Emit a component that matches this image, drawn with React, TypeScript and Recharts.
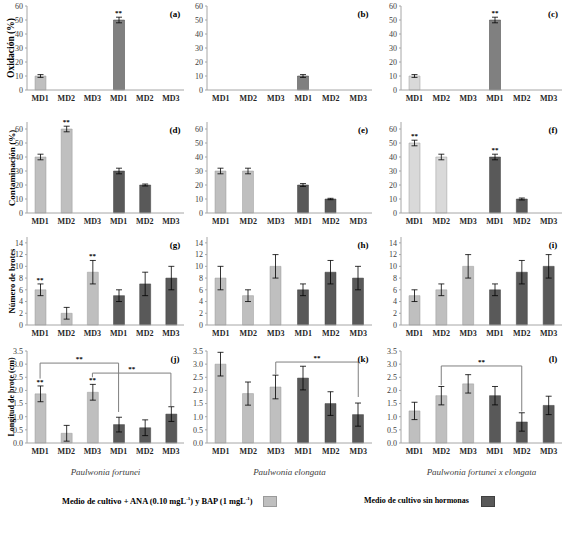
import React from "react";
import { ComposedChart, Bar, Cell, ErrorBar, Line, XAxis, YAxis, ReferenceLine } from "recharts";

// categorias: 3 con hormonas + 3 sin hormonas
const categories = ["MD1", "MD2", "MD3", "MD1", "MD2", "MD3"];

// Oxidación (%)
const oxFortunei = [10, 0, 0, 50, 0, 0];
const oxFortuneiErr = [1, null, null, 2, null, null];
const oxFortuneiSig = [0, 0, 0, 1, 0, 0];
const oxElongata = [0, 0, 0, 10, 0, 0];
const oxElongataErr = [null, null, null, 1, null, null];
const oxElongataSig = [0, 0, 0, 0, 0, 0];
const oxHibrido = [10, 0, 0, 50, 0, 0];
const oxHibridoErr = [1, null, null, 2, null, null];
const oxHibridoSig = [0, 0, 0, 1, 0, 0];

// Contaminación (%)
const contFortunei = [40, 60, 0, 30, 20, 0];
const contFortuneiErr = [2, 2, null, 2, 0.7, null];
const contFortuneiSig = [0, 1, 0, 0, 0, 0];
const contElongata = [30, 30, 0, 20, 10, 0];
const contElongataErr = [2, 2, null, 1, 0.5, null];
const contElongataSig = [0, 0, 0, 0, 0, 0];
const contHibrido = [50, 40, 0, 40, 10, 0];
const contHibridoErr = [2, 2, null, 2, 0.7, null];
const contHibridoSig = [1, 0, 0, 1, 0, 0];

// Número de brotes
const brotesFortunei = [6, 2, 9, 5, 7, 8];
const brotesFortuneiErr = [1, 1, 2, 1, 2, 2];
const brotesFortuneiSig = [1, 0, 1, 0, 0, 0];
const brotesElongata = [8, 5, 10, 6, 9, 8];
const brotesElongataErr = [2, 1, 2, 1, 2, 2];
const brotesElongataSig = [0, 0, 0, 0, 0, 0];
const brotesHibrido = [5, 6, 10, 6, 9, 10];
const brotesHibridoErr = [1, 1, 2, 1, 2, 2];
const brotesHibridoSig = [0, 0, 0, 0, 0, 0];

// Longitud de brote (cm)
const longFortunei = [1.87, 0.37, 1.93, 0.7, 0.58, 1.1];
const longFortuneiErr = [0.3, 0.3, 0.3, 0.28, 0.3, 0.28];
const longFortuneiSig = [1, 0, 1, 0, 0, 0];
const longElongata = [3.0, 1.88, 2.13, 2.47, 1.5, 1.08];
const longElongataErr = [0.45, 0.44, 0.45, 0.45, 0.45, 0.44];
const longElongataSig = [0, 0, 0, 0, 0, 0];
const longHibrido = [1.22, 1.8, 2.25, 1.8, 0.8, 1.43];
const longHibridoErr = [0.33, 0.35, 0.35, 0.35, 0.35, 0.35];
const longHibridoSig = [0, 0, 0, 0, 0, 0];

// comparaciones significativas (indices de categoria, altura del corchete y de sus patas)
const bracketsFortunei = [
  { from: 0, to: 3, y: 3.04, yFrom: 2.45, yTo: 1.18 },
  { from: 2, to: 5, y: 2.66, yFrom: 2.5, yTo: 1.4 },
];
const bracketsElongata = [{ from: 2, to: 5, y: 3.08, yFrom: 2.6, yTo: 1.75 }];
const bracketsHibrido = [{ from: 1, to: 4, y: 2.93, yFrom: 2.2, yTo: 1.2 }];

const species = ["Paulwonia fortunei", "Paulwonia elongata", "Paulwonia fortunei x elongata"];
const yTitles = ["Oxidación (%)", "Contaminación (%)", "Número de brotes", "Longitud de brote (cm)"];
const panelLetters = ["(a)", "(b)", "(c)", "(d)", "(e)", "(f)", "(g)", "(h)", "(i)", "(j)", "(k)", "(l)"];

const FONT = "'Liberation Serif', 'Times New Roman', serif";
const LIGHT = "#bfbfbf";
const LIGHTER = "#d9d9d9";
const MID = "#808080";
const DARK = "#595959";
const AXIS = "#a6a6a6";
const TOP_PAD = 12;

const cols = [
  { x0: 27, x1: 184 },
  { x0: 207, x1: 372 },
  { x0: 401, x1: 562 },
];

const rows = [
  { top: 6, bottom: 90, max: 60, ticks: [0, 10, 20, 30, 40, 50, 60], dec: 0, titleSize: 9.5 },
  { top: 122, bottom: 213, max: 65, ticks: [0, 10, 20, 30, 40, 50, 60], dec: 0, titleSize: 9 },
  { top: 237, bottom: 325, max: 15, ticks: [0, 2, 4, 6, 8, 10, 12, 14], dec: 0, titleSize: 8.5 },
  { top: 351, bottom: 443, max: 3.5, ticks: [0, 0.5, 1, 1.5, 2, 2.5, 3, 3.5], dec: 1, titleSize: 8 },
];

const panels = [
  { vals: oxFortunei, errs: oxFortuneiErr, sig: oxFortuneiSig, light: LIGHT, dark: MID },
  { vals: oxElongata, errs: oxElongataErr, sig: oxElongataSig, light: LIGHT, dark: MID },
  { vals: oxHibrido, errs: oxHibridoErr, sig: oxHibridoSig, light: LIGHTER, dark: MID },
  { vals: contFortunei, errs: contFortuneiErr, sig: contFortuneiSig, light: LIGHT, dark: DARK },
  { vals: contElongata, errs: contElongataErr, sig: contElongataSig, light: LIGHT, dark: DARK },
  { vals: contHibrido, errs: contHibridoErr, sig: contHibridoSig, light: LIGHTER, dark: DARK },
  { vals: brotesFortunei, errs: brotesFortuneiErr, sig: brotesFortuneiSig, light: LIGHT, dark: DARK },
  { vals: brotesElongata, errs: brotesElongataErr, sig: brotesElongataSig, light: LIGHT, dark: DARK },
  { vals: brotesHibrido, errs: brotesHibridoErr, sig: brotesHibridoSig, light: LIGHT, dark: DARK },
  { vals: longFortunei, errs: longFortuneiErr, sig: longFortuneiSig, light: LIGHT, dark: DARK, brackets: bracketsFortunei },
  { vals: longElongata, errs: longElongataErr, sig: longElongataSig, light: LIGHT, dark: DARK, brackets: bracketsElongata },
  { vals: longHibrido, errs: longHibridoErr, sig: longHibridoSig, light: LIGHT, dark: DARK, brackets: bracketsHibrido },
];

const key = (i: number) => `c${i}`;

const renderStar = (props: any) => {
  const { cx, cy, index } = props;
  if (cy == null || Number.isNaN(cy)) return <g key={`s${index}`} />;
  return (
    <text key={`s${index}`} x={cx} y={cy - 2} textAnchor="middle" fontSize={7} fontWeight="bold" fontFamily={FONT} fill="#000">
      **
    </text>
  );
};

const Panel = ({ idx }: { idx: number }) => {
  const p = panels[idx];
  const row = rows[Math.floor(idx / 3)];
  const col = cols[idx % 3];
  const data = categories.map((c, i) => ({
    key: key(i),
    value: p.vals[i],
    err: p.errs[i],
    star: p.sig[i] ? p.vals[i] + (p.errs[i] ?? 0) : null,
  }));
  const width = col.x1 - col.x0 + 24;
  const height = row.bottom - row.top + TOP_PAD + 18;

  return (
    <div style={{ position: "absolute", left: col.x0 - 22, top: row.top - TOP_PAD, width, height, fontFamily: FONT }}>
      <ComposedChart width={width} height={height} data={data} margin={{ top: TOP_PAD, right: 2, left: 0, bottom: 0 }}>
        <XAxis
          dataKey="key"
          interval={0}
          height={18}
          stroke={AXIS}
          tickLine={false}
          tickSize={4}
          tickMargin={1}
          tickFormatter={(v: string) => categories[Number(v.slice(1))]}
          tick={{ fontSize: 8, fontWeight: "bold", fill: "#262626", fontFamily: FONT }}
        />
        <YAxis
          width={22}
          domain={[0, row.max]}
          ticks={row.ticks}
          interval={0}
          stroke={AXIS}
          tickSize={2}
          tickMargin={2}
          tickFormatter={(v: number) => v.toFixed(row.dec)}
          tick={{ fontSize: 8, fill: "#404040", fontFamily: FONT }}
        />
        <Bar dataKey="value" barSize={11} isAnimationActive={false}>
          {data.map((d, i) => (
            <Cell key={d.key} fill={i < 3 ? p.light : p.dark} stroke={i < 3 ? "#9a9a9a" : "#404040"} strokeWidth={0.5} />
          ))}
          <ErrorBar dataKey="err" width={3} stroke="#000" strokeWidth={0.8} />
        </Bar>
        <Line dataKey="star" stroke="none" dot={renderStar} activeDot={false} isAnimationActive={false} legendType="none" />
        {(p.brackets ?? []).flatMap((b, j) => [
          <ReferenceLine
            key={`h${j}`}
            segment={[{ x: key(b.from), y: b.y }, { x: key(b.to), y: b.y }]}
            stroke="#7f7f7f"
            ifOverflow="visible"
            label={{ value: "**", position: "top", offset: 2, fontSize: 7, fontWeight: "bold", fill: "#000", fontFamily: FONT }}
          />,
          <ReferenceLine
            key={`l${j}`}
            segment={[{ x: key(b.from), y: b.yFrom }, { x: key(b.from), y: b.y }]}
            stroke="#7f7f7f"
            ifOverflow="visible"
          />,
          <ReferenceLine
            key={`r${j}`}
            segment={[{ x: key(b.to), y: b.yTo }, { x: key(b.to), y: b.y }]}
            stroke="#7f7f7f"
            ifOverflow="visible"
          />,
        ])}
      </ComposedChart>
    </div>
  );
};

const abs = (left: number, top: number, extra: React.CSSProperties = {}): React.CSSProperties => ({
  position: "absolute",
  left,
  top,
  transform: "translate(-50%, -50%)",
  whiteSpace: "nowrap",
  fontFamily: FONT,
  lineHeight: 1,
  ...extra,
});

export default function App() {
  return (
    <div style={{ position: "absolute", left: 0, top: 0, width: 568, height: 536, background: "#fff", overflow: "hidden", fontFamily: FONT }}>
      {panels.map((_, i) => (
        <Panel key={i} idx={i} />
      ))}

      {panelLetters.map((t, i) => {
        const row = rows[Math.floor(i / 3)];
        const col = cols[i % 3];
        return (
          <div key={t} style={abs(col.x1 - 9, row.top + 8, { fontSize: 9, fontWeight: "bold", color: "#000" })}>
            {t}
          </div>
        );
      })}

      {yTitles.map((t, i) => (
        <div
          key={t}
          style={abs(12, (rows[i].top + rows[i].bottom) / 2, {
            fontSize: rows[i].titleSize,
            fontWeight: "bold",
            color: "#000",
            transform: "translate(-50%, -50%) rotate(-90deg)",
          })}
        >
          {t}
        </div>
      ))}

      {species.map((t, i) => (
        <div key={t} style={abs((cols[i].x0 + cols[i].x1) / 2, 472, { fontSize: 9, fontStyle: "italic", color: "#404040" })}>
          {t}
        </div>
      ))}

      <div style={{ position: "absolute", left: 62, top: 496, fontFamily: FONT, fontSize: 8.4, fontWeight: "bold", whiteSpace: "nowrap", lineHeight: 1 }}>
        Medio de cultivo + ANA (0.10 mgL<sup style={{ fontSize: 5 }}>-1</sup>) y BAP (1 mgL<sup style={{ fontSize: 5 }}>-1</sup>)
      </div>
      <div style={{ position: "absolute", left: 263, top: 496, width: 14, height: 11, background: LIGHT, border: "0.5px solid #9a9a9a", boxSizing: "border-box" }} />

      <div style={{ position: "absolute", left: 364, top: 497, fontFamily: FONT, fontSize: 8, fontWeight: "bold", whiteSpace: "nowrap", lineHeight: 1 }}>
        Medio de cultivo sin hormonas
      </div>
      <div style={{ position: "absolute", left: 481, top: 496, width: 14, height: 11, background: DARK, border: "0.5px solid #404040", boxSizing: "border-box" }} />
    </div>
  );
}
